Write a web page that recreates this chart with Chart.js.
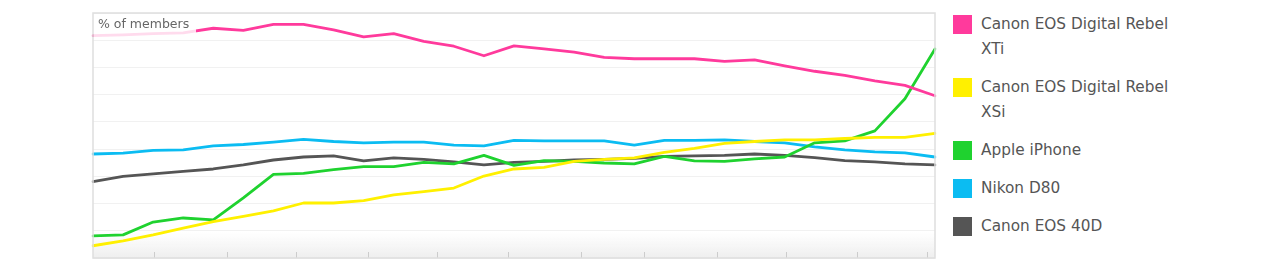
<!DOCTYPE html>
<html>
<head>
<meta charset="utf-8">
<script src="https://cdn.jsdelivr.net/npm/chart.js@4/dist/chart.umd.min.js"></script>
<style>
  html, body { margin: 0; padding: 0; background: #fff; }
  body { width: 1280px; height: 271px; position: relative; overflow: hidden; font-family: "DejaVu Sans", sans-serif; }
  #wrap { position: absolute; left: 0; top: 0; width: 945px; height: 271px; }
  #legend { position: absolute; left: 953px; top: 12px; margin: 0; padding: 0; list-style: none; width: 220px; }
  #legend li { display: flex; align-items: flex-start; margin-bottom: 13px; }
  #legend .box { flex: none; width: 19px; height: 19px; margin-top: 3px; box-sizing: border-box; }
  #legend .txt { margin-left: 9px; width: 198px; font-size: 15.3px; line-height: 25px; color: #555; }
</style>
</head>
<body>
<div id="wrap"><canvas id="camChart"></canvas></div>
<ul id="legend"></ul>
<script>
// sample points, roughly every two weeks
const periods = ['1','2','3','4','5','6','7','8','9','10','11','12','13','14','15',
  '16','17','18','19','20','21','22','23','24','25','26','27','28','29']
// month marks along the bottom, in period units
const monthTicks = [2.03, 4.46, 6.75, 9.15, 11.44, 13.8, 16.23, 18.32, 20.75, 23.05, 25.4, 27.74]

const seriesNames = ['Canon EOS Digital Rebel XTi', 'Canon EOS Digital Rebel XSi', 'Apple iPhone', 'Nikon D80', 'Canon EOS 40D']
const seriesColors = ['#ff3a9c', '#fff000', '#1fd22f', '#0bbcf2', '#555555']

const rebelXTi = [8.17, 8.20, 8.24, 8.27, 8.44, 8.36, 8.58, 8.58, 8.38, 8.12, 8.24, 7.96, 7.78, 7.43, 7.79,
  7.68, 7.56, 7.37, 7.32, 7.32, 7.32, 7.22, 7.28, 7.06, 6.86, 6.71, 6.51, 6.34, 5.96]
const rebelXSi = [0.45, 0.63, 0.85, 1.10, 1.34, 1.53, 1.73, 2.02, 2.02, 2.11, 2.32, 2.44, 2.57, 3.01, 3.27,
  3.33, 3.55, 3.62, 3.68, 3.88, 4.03, 4.21, 4.28, 4.34, 4.34, 4.39, 4.43, 4.43, 4.58]
const iPhone = [0.81, 0.85, 1.32, 1.47, 1.40, 2.21, 3.07, 3.11, 3.25, 3.36, 3.36, 3.51, 3.46, 3.77, 3.40,
  3.58, 3.55, 3.49, 3.46, 3.73, 3.57, 3.55, 3.64, 3.71, 4.23, 4.30, 4.67, 5.85, 7.68]
const nikonD80 = [3.82, 3.85, 3.95, 3.97, 4.12, 4.17, 4.26, 4.36, 4.28, 4.23, 4.26, 4.26, 4.15, 4.12, 4.32,
  4.30, 4.30, 4.30, 4.15, 4.32, 4.32, 4.34, 4.28, 4.23, 4.08, 3.97, 3.90, 3.86, 3.71]
const canon40D = [2.81, 3.00, 3.09, 3.18, 3.27, 3.42, 3.60, 3.71, 3.75, 3.57, 3.68, 3.62, 3.53, 3.42, 3.51,
  3.55, 3.60, 3.62, 3.66, 3.73, 3.75, 3.77, 3.82, 3.77, 3.69, 3.58, 3.53, 3.46, 3.42]

const seriesValues = [rebelXTi, rebelXSi, iPhone, nikonD80, canon40D]

// background gradient, frame, month marks and the axis caption
const decorations = {
  id: 'decorations',
  beforeDraw(chart) {
    const { ctx, chartArea: a } = chart
    const g = ctx.createLinearGradient(0, a.bottom - 26, 0, a.bottom)
    g.addColorStop(0, 'rgba(240,240,240,0)')
    g.addColorStop(1, '#eeeeee')
    ctx.save()
    ctx.fillStyle = g
    ctx.fillRect(a.left, a.bottom - 26, a.right - a.left, 26)
    ctx.restore()
  },
  afterDatasetsDraw(chart) {
    const { ctx, chartArea: a, scales } = chart
    ctx.save()
    ctx.fillStyle = 'rgba(255,255,255,0.82)'
    ctx.fillRect(a.left + 1, a.top + 1, 102, 24)
    ctx.fillStyle = '#666'
    ctx.font = '12.5px "DejaVu Sans"'
    ctx.textBaseline = 'middle'
    ctx.fillText('% of members', a.left + 5, a.top + 12)

    ctx.strokeStyle = '#cccccc'
    ctx.lineWidth = 1
    monthTicks.forEach((t) => {
      const x = Math.round(scales.x.getPixelForValue(t)) + 0.5
      ctx.beginPath()
      ctx.moveTo(x, a.bottom - 6)
      ctx.lineTo(x, a.bottom)
      ctx.stroke()
    })

    ctx.strokeStyle = '#dedede'
    ctx.lineWidth = 1.5
    ctx.strokeRect(a.left, a.top, a.right - a.left, a.bottom - a.top)
    ctx.restore()
  }
}

const ctx = document.getElementById('camChart')

new Chart(ctx, {
  type: 'line',
  data: {
    labels: periods,
    datasets: seriesNames.map((name, i) => ({
      label: name,
      data: seriesValues[i],
      borderColor: seriesColors[i],
      borderWidth: 2.8,
      pointRadius: 0,
      tension: 0,
      fill: false,
      borderJoinStyle: 'round',
      borderCapStyle: 'round'
    }))
  },
  options: {
    responsive: true,
    maintainAspectRatio: false,
    animation: false,
    layout: {
      padding: { left: 93, top: 13, right: 10, bottom: 13 }
    },
    plugins: {
      legend: { display: false },
      tooltip: { enabled: false }
    },
    scales: {
      x: {
        offset: false,
        ticks: { display: false },
        grid: { display: false, drawTicks: false },
        border: { display: false }
      },
      y: {
        min: 0,
        max: 9,
        ticks: { display: false, stepSize: 1 },
        grid: { color: '#f1f1f1', drawTicks: false },
        border: { display: false }
      }
    }
  },
  plugins: [decorations]
})

const legend = document.getElementById('legend')
seriesNames.forEach((name, i) => {
  const li = document.createElement('li')
  const box = document.createElement('span')
  box.className = 'box'
  box.style.background = seriesColors[i]
  const txt = document.createElement('span')
  txt.className = 'txt'
  txt.textContent = name
  li.appendChild(box)
  li.appendChild(txt)
  legend.appendChild(li)
})
</script>
</body>
</html>
